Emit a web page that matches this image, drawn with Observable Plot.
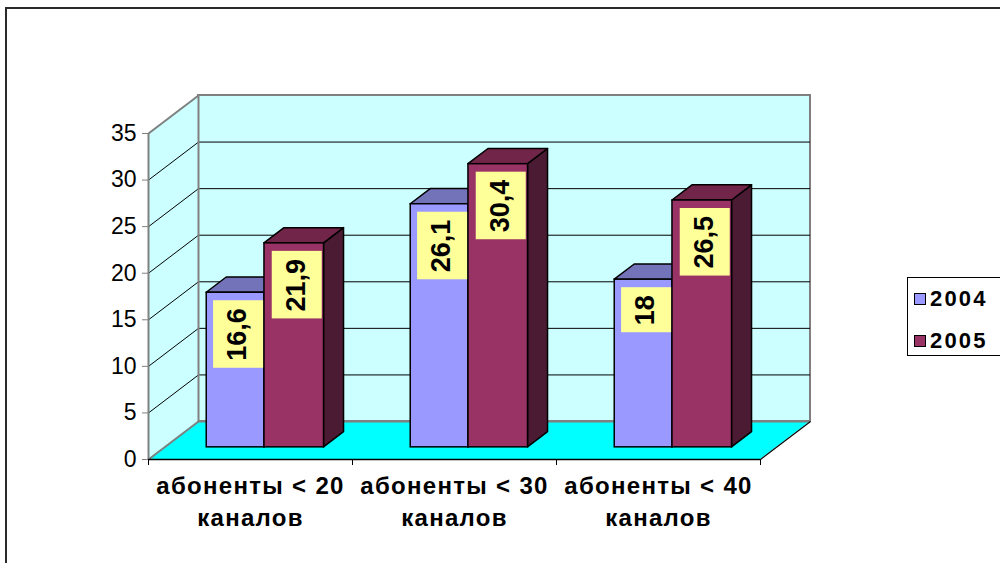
<!DOCTYPE html>
<html><head><meta charset="utf-8">
<script src="https://cdn.jsdelivr.net/npm/d3@7"></script>
<script src="https://cdn.jsdelivr.net/npm/@observablehq/plot@0.6"></script>
<style>
body{margin:0;background:#fff;overflow:hidden;font-family:"Liberation Sans",Arial,sans-serif;}
#wrap{position:relative;width:1000px;height:563px;overflow:hidden;background:#fff;}
#chart{position:absolute;left:0;top:0;}
#frame{position:absolute;left:5px;top:7px;width:1200px;height:800px;border:2px solid #2a2a2a;pointer-events:none;}
#legend{position:absolute;left:907px;top:277px;width:120px;height:77px;border:1px solid #000;background:#fff;}
.item{position:absolute;left:6px;height:22px;display:flex;align-items:center;font-weight:bold;font-size:22px;letter-spacing:2.2px;color:#000;}
.sw{width:10px;height:10px;border:1px solid #000;margin-right:4px;}
</style></head><body>
<div id="wrap"><div id="chart"></div><div id="legend"></div><div id="frame"></div></div>
<script>
// ---- data ----
const categories = ["абоненты < 20\nканалов", "абоненты < 30\nканалов", "абоненты < 40\nканалов"];
const years = ["2004", "2005"];
const values2004 = [16.6, 26.1, 18];
const values2005 = [21.9, 30.4, 26.5];
const yTicks = [0, 5, 10, 15, 20, 25, 30, 35];

// ---- styles ----
const frontColors = {"2004": "#9999ff", "2005": "#993366"};
const topColors = {"2004": "#7373b9", "2005": "#712549"};
const sideColors = {"2004": "#4d4d80", "2005": "#4b1a33"};

// ---- layout ----
const W = 1000, H = 563, mL = 148, mR = 240, mT = 133, mB = 104;
const yMax = yTicks[yTicks.length - 1];
const nCat = categories.length;
const pxPerX = (W - mL - mR) / nCat;
const pxPerY = (H - mT - mB) / yMax;
const DX = 50 / pxPerX, DY = 38 / pxPerY;   // full depth of the 3D box in data units
const fD = 0.32, bD = 0.72;                 // bar front / back depth
const barSlots = {"2004": [0.207, 0.49], "2005": [0.49, 0.782]};

const seriesValues = {"2004": values2004, "2005": values2005};
const bars = [];
categories.forEach((c, i) => years.forEach(s => {
  const v = seriesValues[s][i];
  bars.push({cat: c, i, series: s, value: v,
    x1: i + barSlots[s][0], x2: i + barSlots[s][1],
    label: String(v).replace(".", ",")});
}));

// label boxes
const ctx = document.createElement("canvas").getContext("2d");
ctx.font = "bold 27px 'Liberation Sans', Arial";
const labelBoxes = bars.map(d => {
  const h = ctx.measureText(d.label).width + 15;
  const top = d.value + fD * DY;
  const yA = top - 8 / pxPerY, yB = top - (8 + h) / pxPerY;
  return {...d, cx: (d.x1 + d.x2) / 2 + fD * DX, yA, yB, ym: (yA + yB) / 2};
});

function barMarks(s) {
  const b = bars.filter(d => d.series === s);
  const side = b.flatMap(d => [
    {id: d.i, x: d.x2 + fD * DX, y1: fD * DY, y2: d.value + fD * DY},
    {id: d.i, x: d.x2 + bD * DX, y1: bD * DY, y2: d.value + bD * DY}]);
  const top = b.flatMap(d => [
    {id: d.i, y: d.value + fD * DY, x1: d.x1 + fD * DX, x2: d.x2 + fD * DX},
    {id: d.i, y: d.value + bD * DY, x1: d.x1 + bD * DX, x2: d.x2 + bD * DX}]);
  return [
    Plot.areaY(side, {x: "x", y1: "y1", y2: "y2", z: "id", fill: sideColors[s], stroke: "black", strokeWidth: 1.5}),
    Plot.areaX(top, {y: "y", x1: "x1", x2: "x2", z: "id", fill: topColors[s], stroke: "black", strokeWidth: 1.5}),
    Plot.rect(b, {x1: d => d.x1 + fD * DX, x2: d => d.x2 + fD * DX, y1: () => fD * DY, y2: d => d.value + fD * DY,
      fill: frontColors[s], stroke: "black", strokeWidth: 1.5})
  ];
}

const inner = yTicks.filter(t => t > 0 && t < yMax);
const edge = [0, yMax];

const chart = Plot.plot({
  width: W, height: H, marginLeft: mL, marginRight: mR, marginTop: mT, marginBottom: mB,
  x: {domain: [0, nCat]},
  y: {domain: [0, yMax]},
  style: {fontFamily: "'Liberation Sans', Arial, sans-serif", background: "transparent", overflow: "visible", color: "black"},
  marks: [
    // back wall
    Plot.rect([0], {x1: () => DX, x2: () => nCat + DX, y1: () => DY, y2: () => yMax + DY, fill: "#ccffff", stroke: "#808080", strokeWidth: 2}),
    // side wall
    Plot.areaY([{x: 0, y1: 0, y2: yMax}, {x: DX, y1: DY, y2: yMax + DY}], {x: "x", y1: "y1", y2: "y2", fill: "#ccffff"}),
    // floor
    Plot.areaX([{y: 0, x1: 0, x2: nCat}, {y: DY, x1: DX, x2: nCat + DX}], {y: "y", x1: "x1", x2: "x2", fill: "#00ffff"}),
    // grid on back wall
    Plot.ruleY(inner, {y: t => t + DY, x1: () => DX, x2: () => nCat + DX, stroke: "black", strokeWidth: 1}),
    // grid on side wall
    Plot.link(inner, {x1: () => 0, y1: t => t, x2: () => DX, y2: t => t + DY, stroke: "black", strokeWidth: 1}),
    Plot.link(edge, {x1: () => 0, y1: t => t, x2: () => DX, y2: t => t + DY, stroke: "#808080", strokeWidth: 2}),
    Plot.ruleX([DX], {y1: () => DY, y2: () => yMax + DY, stroke: "#808080", strokeWidth: 2}),
    Plot.ruleY([DY], {x1: () => DX, x2: () => nCat + DX, stroke: "#808080", strokeWidth: 2}),
    // floor right edge
    Plot.link([nCat], {x1: t => t, y1: () => 0, x2: t => t + DX, y2: () => DY, stroke: "black", strokeWidth: 1.2}),
    // axes
    Plot.ruleX([0], {stroke: "#808080", strokeWidth: 2}),
    Plot.ruleY([0], {stroke: "black", strokeWidth: 1.5}),
    Plot.axisY({ticks: yTicks, tickSize: 6, tickPadding: 6, stroke: "#808080", fill: "black", fontSize: 23, tickFormat: d => d}),
    Plot.axisX({ticks: d3.range(nCat + 1), tickSize: 6, stroke: "black", tickFormat: () => ""}),
    Plot.text(categories, {x: (d, i) => i + 0.5, y: () => 0, text: d => d, lineAnchor: "top", dy: 12, fontSize: 24, fontWeight: "bold", lineHeight: 1.34, fill: "black"}),
    // bars
    ...barMarks("2004"),
    ...barMarks("2005"),
    // data labels
    Plot.rect(labelBoxes, {x1: "cx", x2: "cx", y1: "yA", y2: "yB", insetLeft: -22, insetRight: -28, fill: "#ffff99"}),
    Plot.text(labelBoxes, {x: "cx", y: "ym", text: "label", rotate: -90, fontSize: 27, fontWeight: "bold", fill: "black", dx: 2})
  ]
});
d3.select(chart).selectAll("text")
  .filter(function() { return categories.some(c => this.textContent.replace(/\s+/g, "") === c.replace(/\s+/g, "")); })
  .attr("letter-spacing", "1.3px").style("letter-spacing", "1.3px");
document.getElementById("chart").appendChild(chart);

// legend
const legend = document.getElementById("legend");
years.forEach((s, k) => {
  const it = document.createElement("div");
  it.className = "item";
  it.style.top = (10 + k * 42) + "px";
  it.innerHTML = `<span class="sw" style="background:${frontColors[s]}"></span><span>${s}</span>`;
  legend.appendChild(it);
});
</script></body></html>
